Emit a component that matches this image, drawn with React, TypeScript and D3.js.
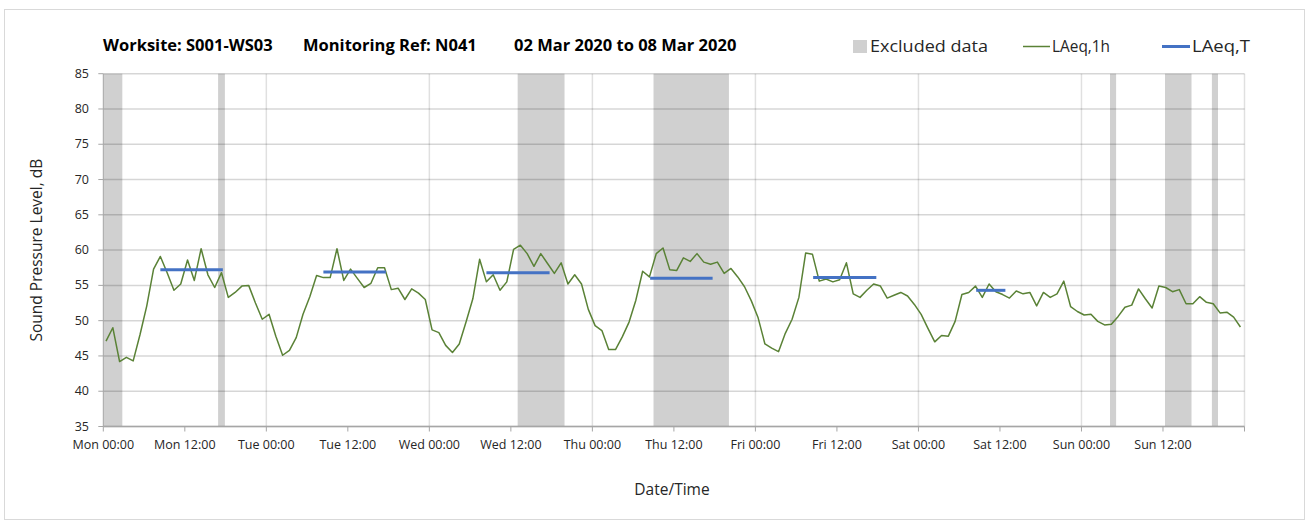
import React from "react";
import * as d3 from "d3";

// ---- data ----
const titleParts = ["Worksite: S001-WS03", "Monitoring Ref: N041", "02 Mar 2020 to 08 Mar 2020"];
const legendLabels = ["Excluded data", "LAeq,1h", "LAeq,T"];
const xTickLabels = [
  "Mon 00:00", "Mon 12:00", "Tue 00:00", "Tue 12:00", "Wed 00:00", "Wed 12:00",
  "Thu 00:00", "Thu 12:00", "Fri 00:00", "Fri 12:00", "Sat 00:00", "Sat 12:00",
  "Sun 00:00", "Sun 12:00",
];
const yTicks = [35, 40, 45, 50, 55, 60, 65, 70, 75, 80, 85];
const weekHours = 168;
const firstReadingHour = 0.4; // hourly readings start at 00:24 on Mon 02 Mar 2020

const laeq1h = [
  47.1, 49.0, 44.2, 44.8, 44.3, 48.0, 52.1, 57.3, 59.1, 56.8, 54.3, 55.2, 58.6, 55.7, 60.2, 56.5,
  54.7, 56.8, 53.3, 54.0, 54.9, 55.0, 52.5, 50.2, 50.9, 47.8, 45.1, 45.8, 47.6, 50.9, 53.4, 56.4,
  56.1, 56.1, 60.2, 55.7, 57.3, 56.0, 54.7, 55.3, 57.5, 57.5, 54.4, 54.6, 53.0, 54.5, 53.9, 53.0,
  48.7, 48.3, 46.5, 45.5, 46.7, 49.8, 53.1, 58.7, 55.5, 56.5, 54.3, 55.5, 60.1, 60.7, 59.5, 57.7,
  59.5, 58.1, 56.7, 58.2, 55.2, 56.5, 55.2, 51.6, 49.3, 48.6, 45.9, 45.9, 47.7, 49.8, 52.9, 57.0,
  56.2, 59.5, 60.3, 57.2, 57.1, 58.9, 58.4, 59.5, 58.3, 58.0, 58.3, 56.7, 57.4, 56.2, 54.8, 52.8,
  50.4, 46.7, 46.1, 45.6, 48.2, 50.2, 53.3, 59.6, 59.4, 55.6, 55.9, 55.5, 55.8, 58.2, 53.8, 53.3,
  54.3, 55.2, 54.9, 53.2, 53.6, 54.0, 53.5, 52.3, 50.9, 48.9, 47.0, 47.9, 47.8, 49.9, 53.7, 54.0,
  54.9, 53.3, 55.2, 54.1, 53.7, 53.2, 54.2, 53.8, 54.0, 52.1, 54.0, 53.3, 53.8, 55.6, 52.0, 51.3,
  50.8, 50.9, 49.9, 49.4, 49.5, 50.6, 51.9, 52.2, 54.5, 53.1, 51.8, 54.9, 54.7, 54.1, 54.4, 52.4,
  52.4, 53.4, 52.6, 52.4, 51.1, 51.2, 50.5, 49.1,
];

const periodStartH = [8.4, 32.4, 56.4, 80.5, 104.5, 128.5];
const periodEndH = [17.6, 41.6, 65.7, 89.7, 113.8, 132.8];
const laeqT = [57.2, 56.9, 56.8, 56.0, 56.1, 54.3];

const excludedStartH = [0, 16.9, 61.0, 81.0, 148.2, 156.3, 163.2];
const excludedEndH = [2.8, 17.9, 67.9, 92.1, 149.1, 160.2, 164.1];

// ---- styling ----
const W = 1309;
const H = 523;
const plot = { left: 103.3, right: 1244.5, top: 73.7, bottom: 426.5 };
const font = "'Open Sans', sans-serif";
const green = "#5a8236";
const blue = "#4472c4";
const bandFill = "#d0d0d0";
const textColor = "#262626";

export default function App() {
  const x = d3.scaleLinear().domain([0, weekHours]).range([plot.left, plot.right]);
  const y = d3.scaleLinear().domain([35, 85]).range([plot.bottom, plot.top]);

  const points = laeq1h.map((v, i) => [i + firstReadingHour, v] as [number, number]);
  const line = d3
    .line<[number, number]>()
    .x((d) => x(d[0]))
    .y((d) => y(d[1]));

  const xTicks = d3.range(0, weekHours + 1, 12);
  const dayGrid = d3.range(24, weekHours + 1, 24);

  return (
    <div style={{ position: "absolute", left: 0, top: 0 }}>
      <svg width={W} height={H} style={{ display: "block", background: "#fff" }}>
        <rect x={4.5} y={9.5} width={1300} height={510} fill="#fff" stroke="#d9d9d9" strokeWidth={1} />

        {/* title */}
        <g fontFamily={font} fontWeight={700} fontSize={16.5} fill="#000">
          <text x={103} y={51}>{titleParts[0]}</text>
          <text x={303} y={51}>{titleParts[1]}</text>
          <text x={514} y={51}>{titleParts[2]}</text>
        </g>

        {/* legend */}
        <g fontFamily={font} fontSize={16.5} fill={textColor}>
          <rect x={853} y={40} width={14} height={13} fill={bandFill} />
          <text x={870} y={52} textLength={118} lengthAdjust="spacingAndGlyphs">{legendLabels[0]}</text>
          <line x1={1023} x2={1050} y1={46.5} y2={46.5} stroke={green} strokeWidth={1.5} />
          <text x={1052} y={52} textLength={58} lengthAdjust="spacingAndGlyphs">{legendLabels[1]}</text>
          <line x1={1162} x2={1190} y1={46.5} y2={46.5} stroke={blue} strokeWidth={3} />
          <text x={1192} y={52} textLength={58} lengthAdjust="spacingAndGlyphs">{legendLabels[2]}</text>
        </g>

        {/* excluded data bands */}
        {excludedStartH.map((s, i) => (
          <rect
            key={"b" + i}
            x={x(s)}
            y={plot.top}
            width={x(excludedEndH[i]) - x(s)}
            height={plot.bottom - plot.top}
            fill={bandFill}
          />
        ))}

        {/* gridlines */}
        {yTicks.map((t) => (
          <line
            key={"gy" + t}
            x1={plot.left}
            x2={plot.right}
            y1={y(t)}
            y2={y(t)}
            stroke="#000"
            strokeOpacity={0.16}
            strokeWidth={1.5}
          />
        ))}
        {dayGrid.map((h) => (
          <line
            key={"gx" + h}
            x1={x(h)}
            x2={x(h)}
            y1={plot.top}
            y2={plot.bottom}
            stroke="#000"
            strokeOpacity={0.12}
            strokeWidth={1.5}
          />
        ))}

        {/* axes */}
        <line x1={plot.left} x2={plot.left} y1={plot.top} y2={plot.bottom} stroke="#a6a6a6" strokeWidth={1} />
        <line x1={plot.left} x2={plot.right} y1={plot.bottom} y2={plot.bottom} stroke="#a6a6a6" strokeWidth={1.5} />
        {yTicks.map((t) => (
          <line key={"ty" + t} x1={plot.left - 5} x2={plot.left} y1={y(t)} y2={y(t)} stroke="#a6a6a6" strokeWidth={1} />
        ))}
        {xTicks.map((h) => (
          <line key={"tx" + h} x1={x(h)} x2={x(h)} y1={plot.bottom} y2={plot.bottom + 5} stroke="#a6a6a6" strokeWidth={1} />
        ))}

        <g fontFamily={font} fontSize={12.5} fill={textColor}>
          {yTicks.map((t) => (
            <text key={"ly" + t} x={89} y={y(t)} dy="0.32em" textAnchor="end">
              {t}
            </text>
          ))}
          {xTickLabels.map((lbl, i) => (
            <text key={"lx" + i} x={x(xTicks[i])} y={449} textAnchor="middle">
              {lbl}
            </text>
          ))}
        </g>

        {/* axis titles */}
        <text
          fontFamily={font}
          fontSize={15.5}
          fill={textColor}
          textAnchor="middle"
          transform={`translate(42, ${(plot.top + plot.bottom) / 2}) rotate(-90)`}
        >
          Sound Pressure Level, dB
        </text>
        <text fontFamily={font} fontSize={15.5} fill={textColor} x={672} y={495} textAnchor="middle">
          Date/Time
        </text>

        {/* LAeq,1h line */}
        <path d={line(points) ?? ""} fill="none" stroke={green} strokeWidth={1.5} strokeLinejoin="round" />

        {/* LAeq,T segments */}
        {laeqT.map((v, i) => (
          <line
            key={"t" + i}
            x1={x(periodStartH[i])}
            x2={x(periodEndH[i])}
            y1={y(v)}
            y2={y(v)}
            stroke={blue}
            strokeWidth={3}
          />
        ))}
      </svg>
    </div>
  );
}
